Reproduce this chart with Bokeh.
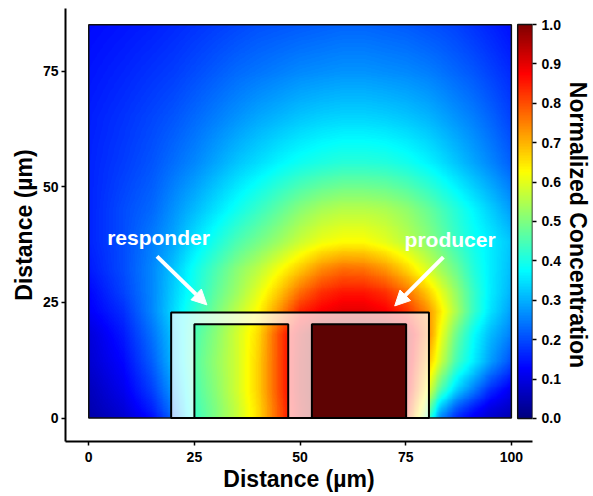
import numpy as np
from bokeh.plotting import figure
from bokeh.models import (Range1d, LinearAxis, FixedTicker, PrintfTickFormatter,
                          LinearColorMapper, Arrow, NormalHead)
from bokeh.core.properties import value
from bokeh.embed import file_html
from bokeh.resources import INLINE

# ---------------- data ----------------
# concentration field samples (normalized), rows = grid_y (bottom -> top), columns = grid_x
grid_x = [0, 8, 15, 20, 25, 30, 35, 40, 45, 50, 55, 60, 65, 70, 75, 80, 83, 87, 91, 95, 100]
grid_y = [0, 2, 6, 12, 18, 23, 27, 32, 38, 45, 55, 65, 75, 85]
conc_y0 = [0.04, 0.08, 0.14, 0.23, 0.43, 0.50, 0.57, 0.66, 0.79, 0.92, 1.0, 1.0, 1.0, 1.0, 0.85, 0.47, 0.27, 0.17, 0.12, 0.08, 0.05]
conc_y2 = [0.05, 0.09, 0.16, 0.25, 0.44, 0.50, 0.57, 0.66, 0.79, 0.92, 1.0, 1.0, 1.0, 1.0, 0.88, 0.52, 0.32, 0.21, 0.15, 0.10, 0.07]
conc_y6 = [0.06, 0.11, 0.19, 0.28, 0.45, 0.51, 0.58, 0.67, 0.80, 0.93, 1.0, 1.0, 1.0, 1.0, 0.92, 0.62, 0.46, 0.33, 0.25, 0.17, 0.11]
conc_y12 = [0.08, 0.13, 0.22, 0.31, 0.46, 0.52, 0.58, 0.67, 0.80, 0.93, 1.0, 1.0, 1.0, 1.0, 0.94, 0.70, 0.58, 0.44, 0.36, 0.28, 0.20]
conc_y18 = [0.09, 0.15, 0.24, 0.32, 0.45, 0.51, 0.58, 0.66, 0.80, 0.92, 1.0, 1.0, 1.0, 1.0, 0.95, 0.76, 0.62, 0.48, 0.38, 0.31, 0.25]
conc_y23 = [0.12, 0.17, 0.26, 0.34, 0.42, 0.49, 0.56, 0.63, 0.73, 0.84, 0.88, 0.90, 0.90, 0.88, 0.83, 0.74, 0.65, 0.54, 0.43, 0.35, 0.28]
conc_y27 = [0.13, 0.19, 0.26, 0.33, 0.40, 0.47, 0.53, 0.60, 0.68, 0.77, 0.83, 0.855, 0.855, 0.83, 0.77, 0.68, 0.61, 0.52, 0.43, 0.36, 0.30]
conc_y32 = [0.15, 0.20, 0.26, 0.32, 0.39, 0.45, 0.51, 0.56, 0.62, 0.68, 0.74, 0.77, 0.765, 0.73, 0.67, 0.59, 0.54, 0.48, 0.41, 0.36, 0.31]
conc_y38 = [0.16, 0.20, 0.25, 0.29, 0.35, 0.40, 0.45, 0.49, 0.53, 0.575, 0.61, 0.625, 0.625, 0.60, 0.56, 0.515, 0.48, 0.43, 0.39, 0.36, 0.32]
conc_y45 = [0.16, 0.20, 0.23, 0.27, 0.31, 0.35, 0.39, 0.43, 0.47, 0.51, 0.54, 0.555, 0.555, 0.545, 0.52, 0.48, 0.45, 0.41, 0.37, 0.33, 0.28]
conc_y55 = [0.16, 0.185, 0.21, 0.235, 0.26, 0.29, 0.32, 0.345, 0.37, 0.39, 0.405, 0.415, 0.415, 0.41, 0.395, 0.37, 0.35, 0.32, 0.29, 0.26, 0.22]
conc_y65 = [0.155, 0.175, 0.195, 0.21, 0.23, 0.25, 0.27, 0.29, 0.305, 0.32, 0.33, 0.335, 0.335, 0.33, 0.32, 0.305, 0.29, 0.27, 0.25, 0.225, 0.19]
conc_y75 = [0.145, 0.16, 0.175, 0.185, 0.20, 0.215, 0.23, 0.24, 0.25, 0.26, 0.265, 0.27, 0.27, 0.265, 0.26, 0.25, 0.24, 0.225, 0.21, 0.19, 0.165]
conc_y85 = [0.135, 0.145, 0.155, 0.165, 0.175, 0.185, 0.195, 0.205, 0.21, 0.215, 0.22, 0.225, 0.225, 0.22, 0.215, 0.205, 0.20, 0.19, 0.175, 0.16, 0.14]
conc_rows = [conc_y0, conc_y2, conc_y6, conc_y12, conc_y18, conc_y23, conc_y27,
             conc_y32, conc_y38, conc_y45, conc_y55, conc_y65, conc_y75, conc_y85]

domain_x = [0, 100]
domain_y = [0, 85]

# chamber and cells (µm)
chamber_x = [19.5, 80.5]
chamber_y = [0, 22.8]
cell_names = ["responder", "producer"]
cell_x0 = [25.0, 52.8]
cell_x1 = [47.2, 75.1]
cell_y0 = [0.0, 0.0]
cell_y1 = [20.3, 20.3]

x_ticks = [0, 25, 50, 75, 100]
y_ticks = [0, 25, 50, 75]
cb_ticks = [0.0, 0.1, 0.2, 0.3, 0.4, 0.5, 0.6, 0.7, 0.8, 0.9, 1.0]

# ---------------- styling helpers ----------------
FONT = "Liberation Sans"
X_END = 105.0
CB_LEFT = 101.5


def jet_palette(n=256):
    t = np.linspace(0, 1, n)
    r = np.clip(1.5 - np.abs(4 * t - 3), 0, 1)
    g = np.clip(1.5 - np.abs(4 * t - 2), 0, 1)
    b = np.clip(1.5 - np.abs(4 * t - 1), 0, 1)
    return ["#%02x%02x%02x" % (int(rr * 255), int(gg * 255), int(bb * 255))
            for rr, gg, bb in zip(r, g, b)]


JET = jet_palette()
mapper = LinearColorMapper(palette=JET, low=0, high=1)

# resample the read grid for display
fx = np.linspace(domain_x[0], domain_x[1], 500)
fy = np.linspace(domain_y[0], domain_y[1], 425)
rows = np.array([np.interp(fx, grid_x, r) for r in conc_rows])
field = np.empty((len(fy), len(fx)))
for j in range(len(fx)):
    field[:, j] = np.interp(fy, grid_y, rows[:, j])

p = figure(width=593, height=494, output_backend="svg", toolbar_location=None,
           x_range=Range1d(-5.5, X_END), y_range=Range1d(-5.06, 88.53),
           min_border_left=65, min_border_right=4, min_border_top=8,
           min_border_bottom=4, x_axis_type=None, y_axis_type=None)
p.outline_line_color = None
p.extra_y_ranges = {"cb": Range1d(-0.0587, 1.0408)}

# heatmap
p.image(image=[field], x=domain_x[0], y=domain_y[0],
        dw=domain_x[1] - domain_x[0], dh=domain_y[1] - domain_y[0], color_mapper=mapper)
p.quad(left=domain_x[0], right=domain_x[1], bottom=domain_y[0], top=domain_y[1],
       fill_color=None, line_color="#111111", line_width=1.5)

# chamber overlay (translucent, with windows for the cells)
ox = [chamber_x[0], chamber_x[1], chamber_x[1], chamber_x[0]]
oy = [chamber_y[0], chamber_y[0], chamber_y[1], chamber_y[1]]
holes_x = [[a, b, b, a] for a, b in zip(cell_x0, cell_x1)]
holes_y = [[c, c, d, d] for c, d in zip(cell_y0, cell_y1)]
p.multi_polygons(xs=[[[ox] + holes_x]], ys=[[[oy] + holes_y]],
                 fill_color="white", fill_alpha=0.72, line_color=None)
p.quad(left=chamber_x[0], right=chamber_x[1], bottom=chamber_y[0], top=chamber_y[1],
       fill_color=None, line_color="black", line_width=2)
p.quad(left=cell_x0[0], right=cell_x1[0], bottom=cell_y0[0], top=cell_y1[0],
       fill_color=None, line_color="black", line_width=2)
p.quad(left=cell_x0[1], right=cell_x1[1], bottom=cell_y0[1], top=cell_y1[1],
       fill_color="#5e0303", line_color="black", line_width=2)

# labels and arrows
p.text(x=[16.5, 85.5], y=[39.0, 38.6], text=cell_names,
       text_font=value(FONT), text_font_style="bold", text_font_size="21px",
       text_color="white", text_align="center", text_baseline="middle")
for xs_, ys_, xe, ye in [(16.15, 34.96, 27.96, 24.47), (83.9, 34.8, 72.4, 24.25)]:
    p.add_layout(Arrow(end=NormalHead(size=15, fill_color="white", line_color="white",
                                      line_width=1),
                       x_start=xs_, y_start=ys_, x_end=xe, y_end=ye,
                       line_color="white", line_width=4))

# colour bar drawn on its own range
cb_vals = np.linspace(0, 1, 256).reshape(-1, 1)
p.image(image=[cb_vals], x=CB_LEFT, y=0, dw=X_END - CB_LEFT, dh=1, color_mapper=mapper,
        y_range_name="cb")
p.quad(left=CB_LEFT, right=X_END, bottom=0, top=1, fill_color=None,
       line_color="#111111", line_width=1.5, y_range_name="cb")


def style_axis(ax, ticks, fmt=None):
    ax.ticker = FixedTicker(ticks=ticks)
    if fmt:
        ax.formatter = PrintfTickFormatter(format=fmt)
    ax.axis_line_color = "black"
    ax.axis_line_width = 2
    ax.major_tick_line_color = "black"
    ax.major_tick_line_width = 1.5
    ax.major_tick_out = 4
    ax.major_tick_in = 0
    ax.minor_tick_line_color = None
    ax.major_label_text_font = FONT
    ax.major_label_text_font_style = "bold"
    ax.major_label_text_font_size = "14px"
    ax.major_label_text_color = "black"
    ax.axis_label_text_font = FONT
    ax.axis_label_text_font_style = "bold"
    ax.axis_label_text_font_size = "23px"
    ax.axis_label_text_color = "black"


xax = LinearAxis(axis_label="Distance (µm)")
style_axis(xax, x_ticks)
xax.major_label_standoff = 6
xax.axis_label_standoff = 1
p.add_layout(xax, "below")

yax = LinearAxis(axis_label="Distance (µm)")
style_axis(yax, y_ticks)
yax.major_label_standoff = 3
yax.axis_label_standoff = 3
p.add_layout(yax, "left")

cax = LinearAxis(y_range_name="cb", axis_label="Normalized Concentration")
style_axis(cax, cb_ticks, "%.1f")
cax.axis_line_color = None
cax.major_label_standoff = 5
cax.axis_label_standoff = 1
p.add_layout(cax, "right")

open("out.html", "w").write(file_html(p, INLINE))
